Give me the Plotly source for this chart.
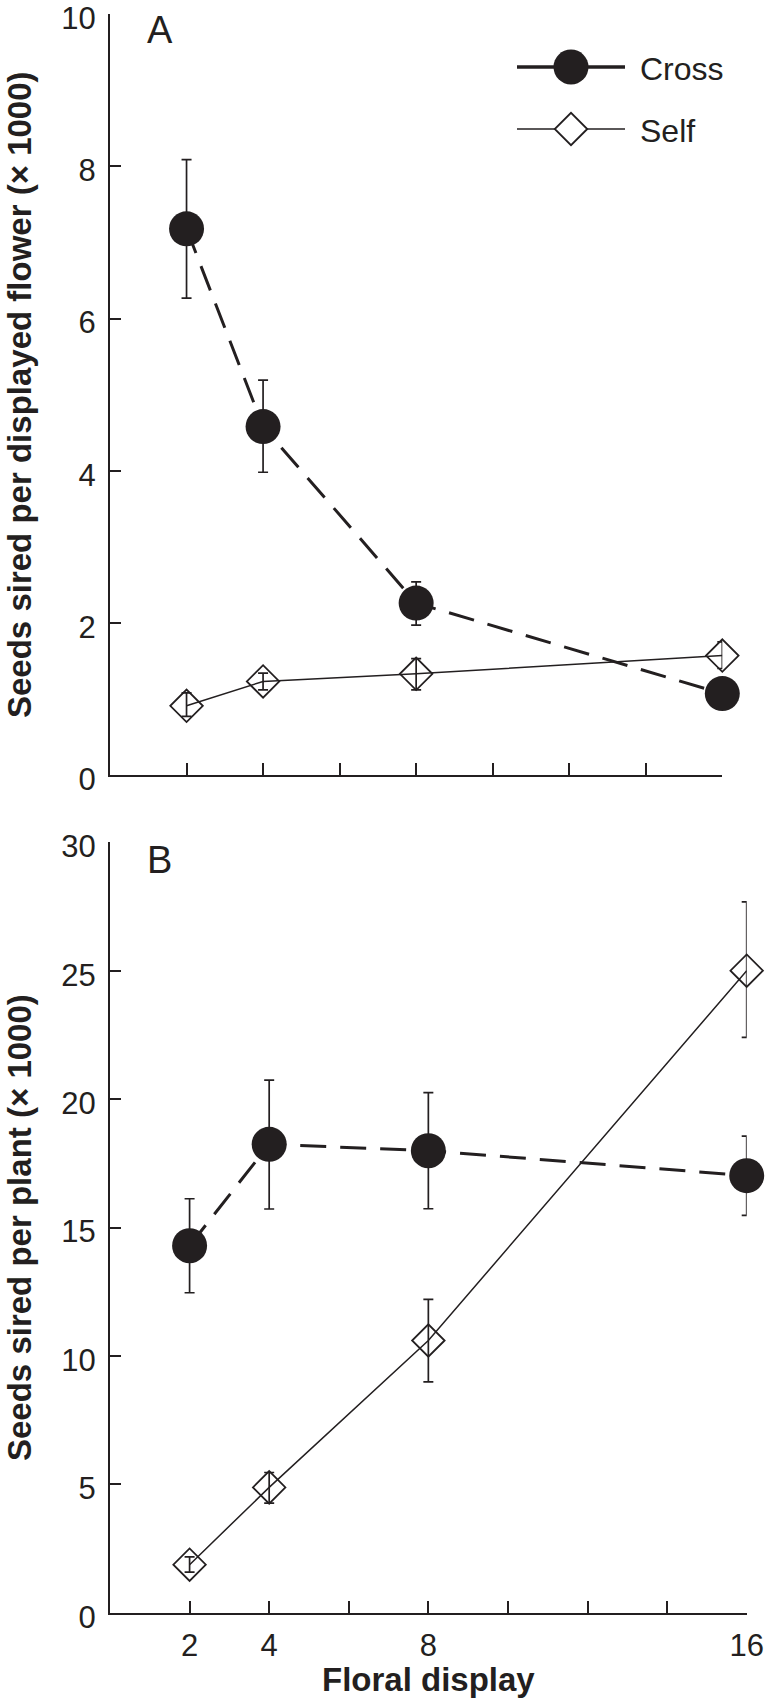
import plotly.graph_objects as go

# ---------------- data ----------------
floral_display = [2, 4, 8, 16]
x_ticks = [2, 4, 6, 8, 10, 12, 14, 16]
x_ticktext = ["2", "4", "", "8", "", "", "", "16"]

# Panel A: seeds sired per displayed flower (x 1000)
a_cross = [7.18, 4.58, 2.26, 1.07]
a_cross_hi = [8.09, 5.19, 2.54, 1.12]
a_cross_lo = [6.27, 3.98, 1.97, 1.02]
a_self = [0.91, 1.23, 1.33, 1.57]
a_self_hi = [1.08, 1.34, 1.53, 1.75]
a_self_lo = [0.77, 1.12, 1.12, 1.40]

# Panel B: seeds sired per plant (x 1000)
b_cross = [14.29, 18.24, 17.99, 17.02]
b_cross_hi = [16.12, 20.74, 20.25, 18.56]
b_cross_lo = [12.46, 15.72, 15.73, 15.47]
b_self = [1.87, 4.88, 10.6, 25.0]
b_self_hi = [2.17, 5.46, 12.2, 27.68]
b_self_lo = [1.58, 4.27, 8.99, 22.4]

a_yticks = [0, 2, 4, 6, 8, 10]
b_yticks = [0, 5, 10, 15, 20, 25, 30]

series_names = ["Cross", "Self"]

# ---------------- layout geometry (page pixels) ----------------
FW, FH = 767, 1698


def px(x):
    return x / FW


def py(y):
    return 1 - y / FH


INK = "#231f20"
FONT = "Liberation Sans, Arial, Helvetica, sans-serif"
CIRCLE_SIZE = 35
DIAMOND_SIZE = 25


def err(vals, hi, lo):
    return ([h - v for v, h in zip(vals, hi)], [v - l for v, l in zip(vals, lo)])


fig = go.Figure()


def add_panel(xa, ya, cross, chi, clo, selfv, shi, slo):
    cp, cm = err(cross, chi, clo)
    sp, sm = err(selfv, shi, slo)
    fig.add_trace(go.Scatter(
        x=floral_display, y=selfv, xaxis=xa, yaxis=ya, mode="lines+markers",
        line=dict(color=INK, width=1.5),
        marker=dict(symbol="diamond-open", size=DIAMOND_SIZE, color=INK, line=dict(width=1.8, color=INK)),
        error_y=dict(type="data", symmetric=False, array=sp, arrayminus=sm,
                     color=INK, thickness=1.7, width=5),
        showlegend=False, cliponaxis=False))
    fig.add_trace(go.Scatter(
        x=floral_display, y=cross, xaxis=xa, yaxis=ya, mode="lines+markers",
        line=dict(color=INK, width=3, dash="26px,14px"),
        marker=dict(symbol="circle", size=CIRCLE_SIZE, color=INK, line=dict(width=0)),
        error_y=dict(type="data", symmetric=False, array=cp, arrayminus=cm,
                     color=INK, thickness=1.7, width=5),
        showlegend=False, cliponaxis=False))


add_panel("x", "y", a_cross, a_cross_hi, a_cross_lo, a_self, a_self_hi, a_self_lo)
add_panel("x2", "y2", b_cross, b_cross_hi, b_cross_lo, b_self, b_self_hi, b_self_lo)

# ---------------- custom legend (page-pixel overlay axis) ----------------
LEG_X0, LEG_X1, LEG_XM = 517, 625, 571
LEG_Y = [67, 129]
LEG_TEXT_X = 638
fig.add_trace(go.Scatter(x=[LEG_X0, LEG_X1], y=[LEG_Y[0]] * 2, xaxis="x3", yaxis="y3", mode="lines",
                         line=dict(color=INK, width=3.5), showlegend=False, hoverinfo="skip"))
fig.add_trace(go.Scatter(x=[LEG_XM], y=[LEG_Y[0]], xaxis="x3", yaxis="y3", mode="markers",
                         marker=dict(symbol="circle", size=CIRCLE_SIZE, color=INK, line=dict(width=0)),
                         showlegend=False, hoverinfo="skip"))
fig.add_trace(go.Scatter(x=[LEG_X0, LEG_X1], y=[LEG_Y[1]] * 2, xaxis="x3", yaxis="y3", mode="lines",
                         line=dict(color=INK, width=1.5), showlegend=False, hoverinfo="skip"))
fig.add_trace(go.Scatter(x=[LEG_XM], y=[LEG_Y[1]], xaxis="x3", yaxis="y3", mode="markers",
                         marker=dict(symbol="diamond", size=DIAMOND_SIZE, color="white",
                                     line=dict(width=1.8, color=INK)),
                         showlegend=False, hoverinfo="skip"))

tickfont = dict(family=FONT, size=31, color=INK)
common_x = dict(range=[0, 16], tickmode="array", tickvals=x_ticks, ticktext=x_ticktext,
                ticks="inside", ticklen=12, tickwidth=2, tickcolor=INK,
                showline=True, linewidth=2, linecolor=INK, showgrid=False, zeroline=False,
                tickfont=tickfont, fixedrange=True, automargin=False, ticklabeloverflow="allow")
common_y = dict(tickmode="array", ticks="inside", ticklen=11, tickwidth=2, tickcolor=INK,
                showline=True, linewidth=2, linecolor=INK, showgrid=False, zeroline=False,
                tickfont=tickfont, ticklabelstandoff=6, ticklabelshift=4, fixedrange=True,
                automargin=False, ticklabeloverflow="allow")

fig.update_layout(
    width=FW, height=FH,
    margin=dict(l=0, r=0, t=0, b=0, autoexpand=False),
    paper_bgcolor="white", plot_bgcolor="rgba(0,0,0,0)",
    font=dict(family=FONT, color=INK),
    showlegend=False,
    xaxis=dict(domain=[px(110), px(722.3)], anchor="y", showticklabels=False, **common_x),
    yaxis=dict(domain=[py(775), py(14.3)], anchor="x", range=[0, 10], tickvals=a_yticks, **common_y),
    xaxis2=dict(domain=[px(110), px(746.7)], anchor="y2", ticklabelstandoff=4, **common_x),
    yaxis2=dict(domain=[py(1612.7), py(842.3)], anchor="x2", range=[0, 30], tickvals=b_yticks, **common_y),
    xaxis3=dict(domain=[0, 1], anchor="y3", range=[0, FW], visible=False, fixedrange=True),
    yaxis3=dict(domain=[0, 1], anchor="x3", range=[FH, 0], visible=False, fixedrange=True),
)

ann = []
ann.append(dict(text="<b>Seeds sired per displayed flower (× 1000)</b>", textangle=-90,
                x=px(19), y=py(395), xref="paper", yref="paper", showarrow=False,
                xanchor="center", yanchor="middle", font=dict(family=FONT, size=33, color=INK)))
ann.append(dict(text="<b>Seeds sired per plant (× 1000)</b>", textangle=-90,
                x=px(19), y=py(1228), xref="paper", yref="paper", showarrow=False,
                xanchor="center", yanchor="middle", font=dict(family=FONT, size=33, color=INK)))
ann.append(dict(text="<b>Floral display</b>", x=px(428), y=py(1679), xref="paper", yref="paper",
                showarrow=False, xanchor="center", yanchor="middle",
                font=dict(family=FONT, size=33, color=INK)))
ann.append(dict(text="A", x=px(145), y=py(30), xref="paper", yref="paper", showarrow=False,
                xanchor="left", yanchor="middle", font=dict(family=FONT, size=38, color=INK)))
ann.append(dict(text="B", x=px(145), y=py(860), xref="paper", yref="paper", showarrow=False,
                xanchor="left", yanchor="middle", font=dict(family=FONT, size=38, color=INK)))
for name, ly in zip(series_names, LEG_Y):
    ann.append(dict(text=name, x=px(LEG_TEXT_X), y=py(ly + 2), xref="paper", yref="paper",
                    showarrow=False, xanchor="left", yanchor="middle",
                    font=dict(family=FONT, size=32, color=INK)))
fig.update_layout(annotations=ann)

fig.write_html("out.html", config={"displayModeBar": False},
               post_script="document.body.style.margin='0';document.body.style.overflow='hidden';")
